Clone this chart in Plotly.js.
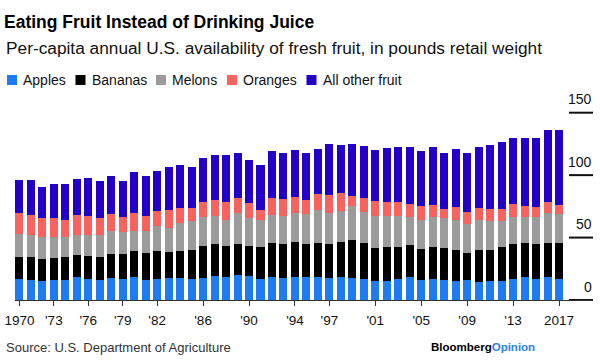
<!DOCTYPE html>
<html>
<head>
<meta charset="utf-8">
<script src="https://cdn.plot.ly/plotly-3.0.1.min.js"></script>
<style>html,body{margin:0;padding:0;background:#fff;}#chart{width:600px;height:361px;}</style>
</head>
<body>
<div id="chart"></div>
<script>
const years = [1970,1971,1972,1973,1974,1975,1976,1977,1978,1979,
  1980,1981,1982,1983,1984,1985,1986,1987,1988,1989,
  1990,1991,1992,1993,1994,1995,1996,1997,1998,1999,
  2000,2001,2002,2003,2004,2005,2006,2007,2008,2009,
  2010,2011,2012,2013,2014,2015,2016,2017];

const apples = [16.6,15.8,15.0,15.8,15.8,18.7,16.6,15.8,17.4,16.6,
  18.2,15.8,16.6,17.4,17.4,16.6,17.4,19.5,18.7,20.3,
  19.0,17.1,18.2,17.9,18.7,18.2,18.2,17.4,18.2,17.9,
  16.6,15.0,15.0,16.6,18.2,15.8,17.1,15.8,15.0,15.8,
  14.4,15.0,15.0,16.6,18.2,16.6,18.2,16.6];

const bananas = [17.6,18.4,17.6,17.6,18.4,17.7,19.0,19.0,19.8,20.6,
  21.4,22.2,23.0,21.4,22.2,23.8,25.9,25.4,24.6,24.4,
  24.3,25.4,27.5,26.8,27.6,26.5,27.3,27.3,28.1,30.5,
  28.9,26.7,27.5,25.9,25.9,25.1,25.4,25.9,25.1,22.2,
  25.7,25.1,27.5,28.3,27.3,28.3,27.3,28.9];

const melons = [19.0,18.2,18.2,17.4,16.1,16.0,16.8,17.6,18.4,17.6,
  16.0,17.6,19.5,18.5,21.9,22.5,22.8,22.5,20.9,24.9,
  22.2,21.4,22.5,22.7,23.0,24.1,26.7,24.9,25.1,27.0,
  24.6,25.2,24.4,24.4,22.0,23.0,23.8,23.8,24.1,23.0,
  24.1,22.8,20.9,21.4,20.8,21.4,23.8,23.0];

const oranges = [16.1,15.3,15.0,15.0,13.6,15.3,14.5,13.1,13.2,11.5,
  13.7,11.3,11.8,14.4,11.8,10.4,12.3,12.9,14.5,12.0,
  12.1,8.3,13.4,13.4,13.1,11.5,12.6,14.4,13.9,7.8,
  11.5,12.6,11.8,11.8,10.9,11.5,9.9,7.3,9.9,9.1,
  9.1,9.6,9.6,10.7,9.1,8.3,9.4,7.7];

const otherFruit = [27.0,28.6,24.4,26.8,28.7,29.4,30.7,30.0,30.7,29.2,
  33.2,32.6,32.4,34.8,34.5,33.2,35.6,35.8,37.1,36.1,
  34.8,35.6,37.4,36.9,37.5,37.4,35.9,40.7,38.6,41.5,
  41.5,40.4,42.8,43.6,45.3,43.6,46.1,44.9,46.6,47.6,
  49.0,51.9,53.3,53.0,54.6,55.4,57.7,60.2];

const seriesNames = ["Apples","Bananas","Melons","Oranges","All other fruit"];
const seriesValues = [apples, bananas, melons, oranges, otherFruit];
const seriesColors = ["#1f7bf2","#000000","#9b9b9b","#f8625f","#2200c8"];

const xTickVals = [1970,1973,1976,1979,1982,1986,1990,1994,1997,2001,2005,2009,2013,2017];
const xTickText = ["1970","'73","'76","'79","'82","'86","'90","'94","'97","'01","'05","'09","'13","2017"];
const yTickVals = [0,50,100,150];
const yTickText = ["0","50","100","150"];

const title = "Eating Fruit Instead of Drinking Juice";
const subtitle = "Per-capita annual U.S. availability of fresh fruit, in pounds retail weight";
const source = "Source: U.S. Department of Agriculture";

// geometry (pixels)
const W = 600, H = 361;
const L = 15, R = 593, T = 80, B = 300;
const PW = R - L, PH = B - T;
const pxPerUnit = 187.3 / 150;
const yTop = PH / pxPerUnit;
const pxPerYear = 11.48;
const xLeft = 1970 - 4.4 / pxPerYear;
const xRight = 2017 + (R - 559) / pxPerYear;
const ruleStart = 2017 + (569 - 559) / pxPerYear;
const xp = p => (p - L) / PW;
const yp = p => (B - p) / PH;

const FONT = "Liberation Sans, Arial, sans-serif";

const traces = seriesNames.map((name, i) => ({
  type: "bar",
  name: name,
  x: years,
  y: seriesValues[i],
  marker: {color: seriesColors[i], line: {width: 0}},
  hoverinfo: "skip",
  showlegend: false
}));

// right-hand value scale rules drawn as a line trace on the same axes
const ruleX = [], ruleY = [];
yTickVals.forEach(v => { ruleX.push(ruleStart, xRight, null); ruleY.push(v, v, null); });
traces.push({
  type: "scatter", mode: "lines", x: ruleX, y: ruleY, cliponaxis: false,
  line: {color: "#111111", width: 2}, hoverinfo: "skip", showlegend: false
});

const shapes = [];
const annotations = [];

yTickVals.forEach((v, i) => {
  annotations.push({
    xref: "x", yref: "y", x: xRight, y: v, xanchor: "right", yanchor: "middle",
    yshift: 13.5, showarrow: false, text: yTickText[i], borderpad: 0,
    font: {family: FONT, size: 14, color: "#111"}
  });
});

// legend built as shapes + annotations
const legendStarts = [7, 75.5, 156, 227, 306.5];
const legendY = 80;
seriesNames.forEach((name, i) => {
  shapes.push({
    type: "rect", xref: "paper", yref: "paper",
    x0: xp(legendStarts[i]), x1: xp(legendStarts[i] + 10),
    y0: yp(legendY + 5), y1: yp(legendY - 5),
    fillcolor: seriesColors[i], line: {width: 0}
  });
  annotations.push({
    xref: "paper", yref: "paper", x: xp(legendStarts[i] + 14), y: yp(legendY),
    xanchor: "left", yanchor: "middle", showarrow: false, text: name,
    font: {family: FONT, size: 14, color: "#111"}
  });
});

annotations.push({
  xref: "paper", yref: "paper", x: xp(4), y: yp(48), xanchor: "left", yanchor: "middle",
  showarrow: false, text: subtitle, font: {family: FONT, size: 17.3, color: "#111"}
});
annotations.push({
  xref: "paper", yref: "paper", x: xp(4), y: yp(347), xanchor: "left", yanchor: "middle",
  showarrow: false, text: source, font: {family: FONT, size: 13, color: "#333"}
});
annotations.push({
  xref: "paper", yref: "paper", x: xp(429), y: yp(347), xanchor: "left", yanchor: "middle",
  showarrow: false, text: '<b>Bloomberg<span style="color:#2f80e8">Opinion</span></b>',
  font: {family: FONT, size: 11.5, color: "#000"}
});

const layout = {
  width: W, height: H,
  margin: {l: L, r: W - R, t: T, b: H - B, pad: 0},
  paper_bgcolor: "#fff", plot_bgcolor: "rgba(0,0,0,0)",
  barmode: "stack", bargap: 0.3,
  showlegend: false,
  title: {
    text: "<b>" + title + "</b>", xref: "container", yref: "container",
    x: 4 / W, xanchor: "left", y: 1 - 22 / H, yanchor: "middle",
    font: {family: FONT, size: 17.5, color: "#000"}
  },
  xaxis: {
    range: [xLeft, xRight], domain: [0, 1],
    tickvals: xTickVals, ticktext: xTickText,
    ticks: "outside", ticklen: 5, tickwidth: 1, tickcolor: "#333",
    showline: true, linecolor: "#333", linewidth: 1,
    showgrid: false, zeroline: false, ticklabelstandoff: 3,
    tickfont: {family: FONT, size: 13.5, color: "#111"}
  },
  yaxis: {
    range: [0, yTop], showticklabels: false, showgrid: false,
    zeroline: false, showline: false, ticks: ""
  },
  shapes: shapes,
  annotations: annotations
};

Plotly.newPlot("chart", traces, layout, {staticPlot: true, displayModeBar: false});
</script>
</body>
</html>
